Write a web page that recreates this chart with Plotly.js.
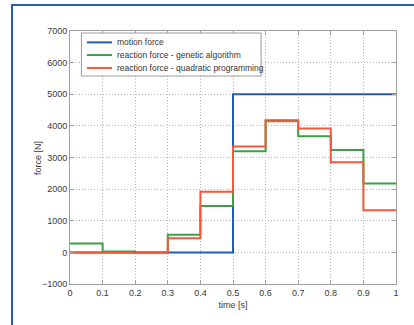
<!DOCTYPE html>
<html>
<head>
<meta charset="utf-8">
<script src="https://cdn.plot.ly/plotly-3.0.1.min.js"></script>
<style>
html,body{margin:0;padding:0;background:#fff;}
#wrap{position:relative;width:414px;height:325px;overflow:hidden;}
#chart{position:absolute;left:0;top:0;width:414px;height:325px;}
#frame{position:absolute;left:11px;top:4px;width:420px;height:340px;border-left:2px solid #2b5ea8;border-top:2px solid #2b5ea8;pointer-events:none;}
</style>
</head>
<body>
<div id="wrap"><div id="chart"></div><div id="frame"></div></div>
<script>
// time step boundaries [s]
const timeSteps = [0, 0.1, 0.2, 0.3, 0.4, 0.5, 0.6, 0.7, 0.8, 0.9, 1.0];
// force per interval [N] (last value repeated for the final step edge)
const motionForce   = [0, 0, 0, 0, 0, 5000, 5000, 5000, 5000, 5000, 5000];
const geneticForce  = [280, 25, 0, 560, 1470, 3200, 4180, 3670, 3240, 2180, 2180];
const quadraticForce= [0, 0, 0, 450, 1920, 3350, 4150, 3920, 2850, 1335, 1335];
const seriesNames = ['motion force', 'reaction force - genetic algorithm', 'reaction force - quadratic programming'];
const seriesColors = ['#1f5bb8', '#3c9e45', '#f4573a'];
const xTicks = [0, 0.1, 0.2, 0.3, 0.4, 0.5, 0.6, 0.7, 0.8, 0.9, 1];
const xTickText = ['0', '0.1', '0.2', '0.3', '0.4', '0.5', '0.6', '0.7', '0.8', '0.9', '1'];
const yTicks = [-1000, 0, 1000, 2000, 3000, 4000, 5000, 6000, 7000];

const series = [motionForce, geneticForce, quadraticForce];
const traces = series.map((ys, i) => ({
  x: timeSteps, y: ys, type: 'scatter', mode: 'lines',
  line: {shape: 'hv', color: seriesColors[i], width: 2},
  name: seriesNames[i], showlegend: false, hoverinfo: 'skip'
}));

const font = {family: 'Liberation Sans, Arial, sans-serif', size: 9, color: '#3a3a3a'};
const axisCommon = {
  showline: true, linecolor: '#a0a0a0', linewidth: 1, mirror: 'ticks',
  ticks: 'inside', ticklen: 4, tickcolor: '#a0a0a0',
  showgrid: true, gridcolor: '#b4b4b4', griddash: '1px,2px', gridwidth: 1,
  zeroline: false, tickfont: font
};

// manual legend (compact like the reference)
const legY = [0.955, 0.905, 0.854];
const shapes = [{
  type: 'rect', xref: 'paper', yref: 'paper', x0: 0.035, x1: 0.586, y0: 0.822, y1: 0.992,
  line: {color: '#9a9a9a', width: 1}, fillcolor: '#fff', layer: 'above'
}];
const annotations = [];
seriesNames.forEach((n, i) => {
  shapes.push({type: 'line', xref: 'paper', yref: 'paper', x0: 0.052, x1: 0.129, y0: legY[i], y1: legY[i],
    line: {color: seriesColors[i], width: 2}, layer: 'above'});
  annotations.push({xref: 'paper', yref: 'paper', x: 0.138, y: legY[i], xanchor: 'left', yanchor: 'middle',
    text: n, showarrow: false, font: {family: font.family, size: 8.5, color: '#333'}});
});
// y-axis title placed like the reference
annotations.push({xref: 'paper', yref: 'paper', x: -0.0997, y: 0.5, xanchor: 'center', yanchor: 'middle',
  text: 'force [N]', textangle: -90, showarrow: false, font: font});

const layout = {
  width: 414, height: 325,
  margin: {l: 70, r: 18, t: 31, b: 41},
  paper_bgcolor: '#fff', plot_bgcolor: '#fff',
  font: font,
  showlegend: false,
  xaxis: Object.assign({}, axisCommon, {
    range: [0, 1], tickvals: xTicks, ticktext: xTickText,
    title: {text: 'time [s]', font: font, standoff: 4}
  }),
  yaxis: Object.assign({}, axisCommon, {
    range: [-1000, 7000], tickvals: yTicks, ticklabelstandoff: 0
  }),
  shapes: shapes, annotations: annotations
};
Plotly.newPlot('chart', traces, layout, {staticPlot: true, displayModeBar: false});
</script>
</body>
</html>
